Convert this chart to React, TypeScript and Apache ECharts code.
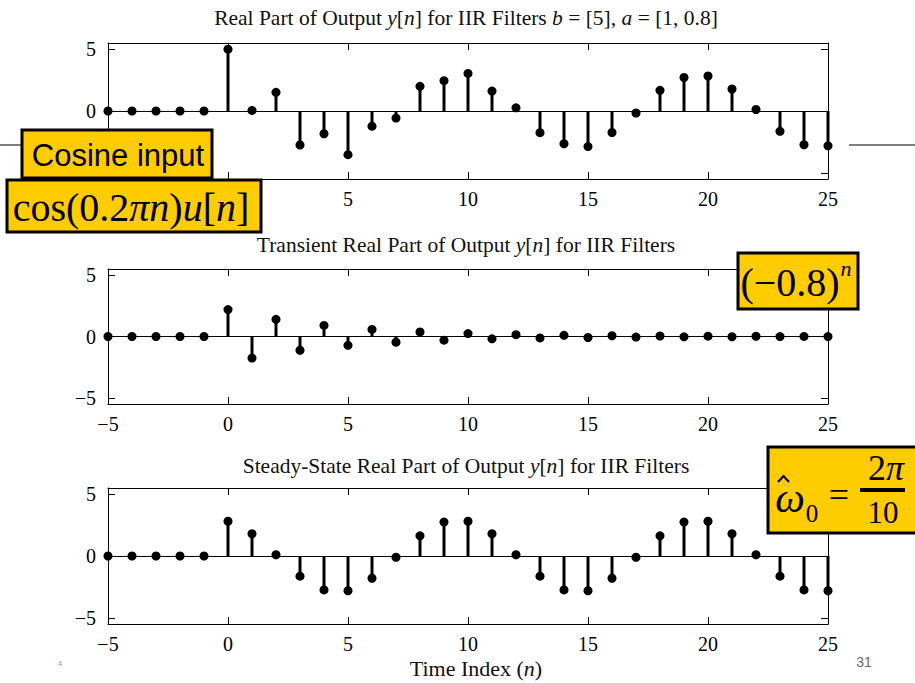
import React, { useEffect, useRef } from "react";
import * as echarts from "echarts";

const SERIF = "'Liberation Serif', 'Times New Roman', serif";
const SANS = "'Liberation Sans', Arial, sans-serif";

const timeIndex = [-5, -4, -3, -2, -1, 0, 1, 2, 3, 4, 5, 6, 7, 8, 9, 10, 11, 12, 13, 14, 15, 16, 17, 18, 19, 20, 21, 22, 23, 24, 25];

const outputReal = [0, 0, 0, 0, 0, 5.0, 0.05, 1.51, -2.75, -1.84, -3.53, -1.23, -0.57, 2.0, 2.45, 3.04, 1.61, 0.26, -1.75, -2.65, -2.88, -1.74, -0.16, 1.67, 2.71, 2.83, 1.78, 0.12, -1.64, -2.73, -2.82];

const transientReal = [0, 0, 0, 0, 0, 2.19, -1.76, 1.4, -1.12, 0.9, -0.72, 0.58, -0.46, 0.37, -0.3, 0.24, -0.19, 0.15, -0.12, 0.1, -0.08, 0.06, -0.05, 0.04, -0.03, 0.03, -0.02, 0.02, -0.01, 0.01, -0.01];

const steadyReal = [0, 0, 0, 0, 0, 2.81, 1.8, 0.1, -1.63, -2.74, -2.81, -1.8, -0.1, 1.63, 2.74, 2.81, 1.8, 0.1, -1.63, -2.74, -2.81, -1.8, -0.1, 1.63, 2.74, 2.81, 1.8, 0.1, -1.63, -2.74, -2.81];

const yTicks = [-5, 0, 5];
// tick labels hidden under the yellow boxes in the first panel
const hiddenXLabelsTop = [-5, 0];
const hiddenYLabelsTop = [-5];

const titles = [
  "Real Part of Output {i|y}[{i|n}] for IIR Filters {i|b} = [5], {i|a} = [1, 0.8]",
  "Transient Real Part of Output {i|y}[{i|n}] for IIR Filters",
  "Steady-State Real Part of Output {i|y}[{i|n}] for IIR Filters",
];

const grids = [
  { left: 108, top: 43, width: 720, height: 136 },
  { left: 108, top: 269, width: 720, height: 135 },
  { left: 108, top: 488, width: 720, height: 136 },
];
const titleY = [18, 245, 466];

const minus = (v: number) => String(v).replace("-", "\u2212");

function xAxis(gridIndex: number, position: string, labels: boolean) {
  return {
    type: "value",
    gridIndex,
    position,
    min: -5,
    max: 25,
    interval: 5,
    axisLine: { show: true, onZero: false, lineStyle: { color: "#000", width: 1 } },
    axisTick: { show: true, inside: true, length: 7, lineStyle: { color: "#000", width: 1 } },
    axisLabel: {
      show: labels,
      color: "#000",
      fontFamily: SERIF,
      fontSize: 20,
      margin: 10,
      formatter: (v: number) => (gridIndex === 0 && hiddenXLabelsTop.includes(v) ? "" : minus(v)),
    },
    splitLine: { show: false },
  };
}

function yAxis(gridIndex: number, position: string, labels: boolean) {
  return {
    type: "value",
    gridIndex,
    position,
    min: -5.5,
    max: 5.5,
    axisLine: { show: true, onZero: false, lineStyle: { color: "#000", width: 1 } },
    axisTick: { show: true, inside: true, length: 7, customValues: yTicks, lineStyle: { color: "#000", width: 1 } },
    axisLabel: {
      show: labels,
      customValues: gridIndex === 0 ? yTicks.filter((v) => !hiddenYLabelsTop.includes(v)) : yTicks,
      color: "#000",
      fontFamily: SERIF,
      fontSize: 20,
      margin: 12,
      formatter: minus,
    },
    splitLine: { show: false },
  };
}

function stemSeries(idx: number, values: number[]) {
  return {
    type: "custom",
    xAxisIndex: idx * 2,
    yAxisIndex: idx * 2,
    data: timeIndex.map((n, i) => [n, values[i]]),
    z: 3,
    renderItem: (params: any, api: any) => {
      const x = api.value(0);
      const y = api.value(1);
      const p0 = api.coord([x, 0]);
      const p1 = api.coord([x, y]);
      return {
        type: "group",
        children: [
          { type: "line", shape: { x1: p0[0], y1: p0[1], x2: p1[0], y2: p1[1] }, style: { stroke: "#000", lineWidth: 3 } },
          { type: "circle", shape: { cx: p1[0], cy: p1[1], r: 4.5 }, style: { fill: "#000" } },
        ],
      };
    },
    markLine: {
      silent: true,
      symbol: ["none", "none"],
      label: { show: false },
      lineStyle: { color: "#000", width: 1, type: "solid" },
      data: [{ yAxis: 0 }],
    },
  };
}

const txt = (x: number, y: number, text: string, size: number, extra: any = {}) => ({
  type: "text",
  x,
  y,
  z: 110,
  style: {
    text,
    fontFamily: SERIF,
    fontSize: size,
    fill: "#000",
    align: "center",
    verticalAlign: "middle",
    textAlign: "center",
    textVerticalAlign: "middle",
    ...extra,
  },
});

const box = (x: number, y: number, w: number, h: number) => ({
  type: "rect",
  z: 100,
  shape: { x, y, width: w, height: h },
  style: { fill: "#FFCC00", stroke: "#000", lineWidth: 3 },
});

export default function App() {
  const ref = useRef<HTMLDivElement>(null);
  useEffect(() => {
    if (!ref.current) return;
    const chart = echarts.init(ref.current, null, { renderer: "svg" });
    const titleRich = { i: { fontStyle: "italic", fontFamily: SERIF, fontSize: 21.5, fill: "#111" } };
    const option: any = {
      animation: false,
      backgroundColor: "#fff",
      grid: grids,
      xAxis: grids.flatMap((_, i) => [xAxis(i, "bottom", true), xAxis(i, "top", false)]),
      yAxis: grids.flatMap((_, i) => [yAxis(i, "left", true), yAxis(i, "right", false)]),
      series: [stemSeries(0, outputReal), stemSeries(1, transientReal), stemSeries(2, steadyReal)],
      graphic: [
        ...titles.map((t, i) => txt(466, titleY[i], t, 21.5, { fill: "#111", rich: titleRich })),
        txt(476, 668, "Time Index ({i|n})", 22, { fill: "#111", rich: { i: { fontStyle: "italic", fontFamily: SERIF, fontSize: 22, fill: "#111" } } }),
        // slide line
        { type: "line", z: 50, shape: { x1: 0, y1: 145, x2: 40, y2: 145 }, style: { stroke: "#000", lineWidth: 1 } },
        { type: "line", z: 50, shape: { x1: 849, y1: 145, x2: 915, y2: 145 }, style: { stroke: "#000", lineWidth: 1 } },
        // Cosine input box
        box(22, 130, 190, 48),
        txt(118, 155, "Cosine input", 31, { fontFamily: SANS }),
        box(7, 180, 254, 52),
        txt(131, 207, "cos(0.2{i|\u03c0n}){i|u}[{i|n}]", 40, { rich: { i: { fontStyle: "italic", fontFamily: SERIF, fontSize: 40, fill: "#000" } } }),
        // (-0.8)^n box
        box(738, 253, 120, 56),
        txt(790, 282, "(\u22120.8)", 40),
        txt(846, 268, "n", 22, { fontStyle: "italic" }),
        // omega box
        box(768, 447, 152, 86),
        txt(790, 498, "\u03c9", 42, { fontStyle: "italic" }),
        { type: "polyline", z: 110, shape: { points: [[778, 482], [783.5, 476], [789, 482]] }, style: { stroke: "#000", lineWidth: 2, fill: null } },
        txt(812, 513, "0", 25),
        txt(839, 495, "=", 36),
        txt(886, 468, "2{i|\u03c0}", 36, { rich: { i: { fontStyle: "italic", fontFamily: SERIF, fontSize: 36, fill: "#000" } } }),
        { type: "rect", z: 110, shape: { x: 860, y: 488, width: 45, height: 4 }, style: { fill: "#000" } },
        txt(883, 512, "10", 31),
        // page numbers
        txt(864, 662, "31", 14, { fontFamily: SANS, fill: "#666" }),
        txt(60, 663, "4", 8, { fontFamily: SANS, fill: "#999" }),
      ],
    };
    chart.setOption(option);
    return () => chart.dispose();
  }, []);
  return <div ref={ref} style={{ position: "fixed", left: 0, top: 0, width: 915, height: 683 }} />;
}
